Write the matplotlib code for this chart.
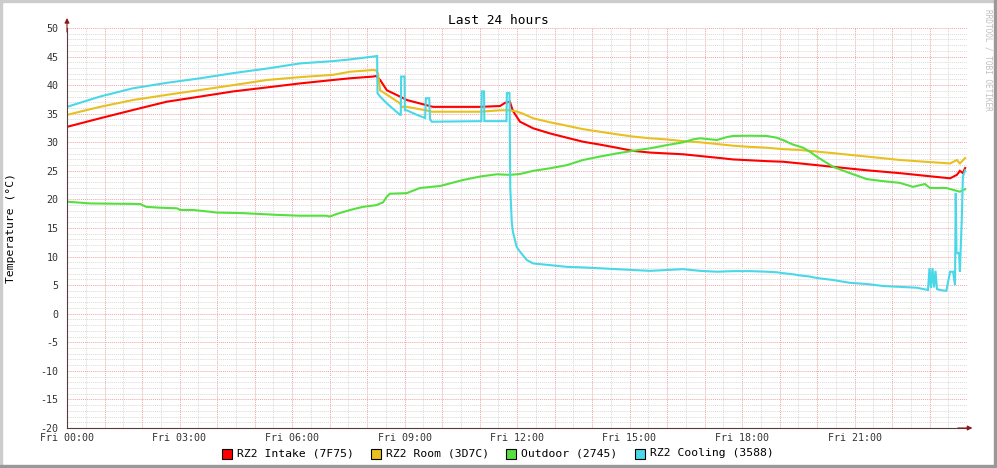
import matplotlib
matplotlib.use("Agg")
import matplotlib.pyplot as plt
from matplotlib.patches import Rectangle
from matplotlib.ticker import MultipleLocator
import numpy as np

plt.rcParams['font.family'] = ['DejaVu Sans Mono']

# time in hours since Fri 00:00
intake_t = [0, 0.88, 1.76, 2.66, 3.55, 4.43, 5.33, 6.21, 7.09, 7.55, 8.16, 8.24, 8.35, 8.53,
            8.88, 9.06, 9.41, 9.76, 11.01, 11.55, 11.68, 11.81, 11.89, 12.08, 12.43, 12.88,
            13.33, 13.76, 14.21, 14.66, 15.09, 15.55, 15.99, 16.43, 16.88, 17.33, 17.76, 18.21,
            18.66, 19.09, 19.55, 20.43, 21.33, 22.21, 23.09, 23.55, 23.73, 23.81, 23.89, 23.95]
intake_v = [32.7, 34.2, 35.65, 37.1, 38.0, 38.9, 39.6, 40.3, 40.9, 41.2, 41.5, 41.6, 40.9, 39.1,
            38.0, 37.4, 36.8, 36.2, 36.2, 36.35, 36.9, 37.1, 35.5, 33.6, 32.45, 31.55,
            30.8, 30.1, 29.6, 29.05, 28.5, 28.2, 28.05, 27.9, 27.6, 27.3, 27.0, 26.85,
            26.7, 26.6, 26.3, 25.7, 25.1, 24.6, 24.0, 23.7, 24.3, 25.0, 24.6, 25.5]

room_t = [0, 0.88, 1.76, 2.66, 3.55, 4.43, 5.33, 6.21, 7.09, 7.55, 8.16, 8.24, 8.29, 8.35, 8.61,
          8.88, 8.93, 9.06, 9.57, 9.73, 11.01, 11.55, 11.81, 11.99, 12.16, 12.43, 12.88, 13.33,
          13.76, 14.21, 14.66, 15.09, 15.55, 15.99, 16.43, 16.88, 17.33, 17.76, 18.21, 18.66,
          19.09, 19.55, 20.43, 21.33, 22.21, 23.09, 23.55, 23.73, 23.81, 23.95]
room_v = [34.8, 36.2, 37.4, 38.3, 39.15, 40.0, 40.9, 41.4, 41.8, 42.35, 42.65, 42.6, 42.1, 39.1, 38.0,
          36.8, 36.2, 36.2, 35.6, 35.35, 35.35, 35.6, 35.6, 35.4, 35.0, 34.2, 33.5, 32.9,
          32.3, 31.85, 31.4, 31.0, 30.7, 30.5, 30.2, 30.0, 29.7, 29.4, 29.2, 29.05,
          28.8, 28.65, 28.1, 27.5, 26.9, 26.5, 26.3, 26.9, 26.3, 27.25]

outdoor_t = [0, 0.62, 1.95, 2.12, 2.48, 2.93, 3.02, 3.36, 3.81, 3.99, 4.69, 5.15, 5.59, 6.21, 6.92,
             7.01, 7.19, 7.55, 7.89, 8.25, 8.43, 8.53, 8.61, 9.06, 9.41, 9.95, 10.21, 10.56, 11.01,
             11.46, 11.81, 12.08, 12.43, 12.88, 13.33, 13.76, 14.21, 14.66, 15.09, 15.55, 15.99,
             16.43, 16.69, 16.88, 17.33, 17.59, 17.76, 18.21, 18.66, 18.93, 19.09, 19.36, 19.63,
             19.81, 19.99, 20.43, 20.88, 21.33, 21.76, 22.21, 22.56, 22.88, 23.01, 23.45, 23.81, 23.95]
outdoor_v = [19.6, 19.3, 19.2, 18.7, 18.55, 18.45, 18.15, 18.15, 17.85, 17.7, 17.6, 17.45, 17.3, 17.15, 17.15,
             17.0, 17.45, 18.15, 18.7, 19.0, 19.5, 20.5, 21.0, 21.1, 22.0, 22.35, 22.8, 23.4, 24.0,
             24.4, 24.3, 24.45, 25.0, 25.45, 26.0, 26.9, 27.5, 28.05, 28.5, 28.95, 29.5,
             29.99, 30.5, 30.7, 30.4, 30.9, 31.1, 31.15, 31.1, 30.8, 30.4, 29.6, 29.05,
             28.35, 27.5, 25.7, 24.6, 23.55, 23.2, 22.9, 22.2, 22.7, 22.0, 22.0, 21.35, 21.8]

cooling_t = [0, 0.88, 1.76, 2.66, 3.55, 4.43, 5.33, 6.21, 7.09, 7.55, 8.16, 8.27, 8.28, 8.35, 8.53,
             8.88, 8.90, 8.91, 9.0, 9.01, 9.06, 9.33, 9.55, 9.57, 9.66, 9.68, 9.73, 11.05, 11.06,
             11.12, 11.13, 11.72, 11.73, 11.80, 11.82, 11.86, 11.89, 11.99, 12.08, 12.26, 12.43,
             12.88, 13.33, 13.76, 14.21, 14.66, 15.09, 15.55, 15.99, 16.43, 16.88, 17.33, 17.76,
             18.21, 18.66, 18.93, 19.09, 19.36, 19.55, 19.81, 19.99, 20.43, 20.88, 21.33, 21.76,
             22.21, 22.66, 22.96, 23.0, 23.04, 23.08, 23.12, 23.16, 23.2, 23.28, 23.45, 23.49,
             23.55, 23.63, 23.68, 23.70, 23.72, 23.79, 23.81, 23.86, 23.89, 23.95]
cooling_v = [36.2, 38.0, 39.45, 40.4, 41.2, 42.1, 42.9, 43.8, 44.2, 44.5, 45.0, 45.1, 38.6, 38.0, 36.8,
             34.8, 34.8, 41.5, 41.5, 35.6, 35.6, 34.8, 34.25, 37.7, 37.7, 34.0, 33.6, 33.7, 38.9,
             38.9, 33.7, 33.7, 38.6, 38.6, 22.0, 16.1, 14.35, 11.7, 10.85, 9.4, 8.8,
             8.5, 8.2, 8.1, 7.95, 7.8, 7.65, 7.5, 7.65, 7.8, 7.5, 7.35, 7.45,
             7.45, 7.35, 7.25, 7.1, 6.9, 6.7, 6.5, 6.25, 5.9, 5.4, 5.2, 4.85,
             4.7, 4.55, 4.15, 8.0, 4.5, 8.0, 4.6, 7.5, 4.3, 4.15, 4.0, 5.4,
             7.35, 7.35, 5.0, 21.1, 10.6, 10.6, 7.35, 16.4, 24.0, 25.1]

series = [
    ("RZ2 Intake (7F75)", intake_t, intake_v, "#ff0000"),
    ("RZ2 Room (3D7C)", room_t, room_v, "#e8c020"),
    ("Outdoor (2745)", outdoor_t, outdoor_v, "#55e040"),
    ("RZ2 Cooling (3588)", cooling_t, cooling_v, "#48d8e8"),
]
xlab_hours = [0, 3, 6, 9, 12, 15, 18, 21]

W, H = 997, 468
fig = plt.figure(figsize=(W / 100, H / 100), dpi=100)
fig.patch.set_facecolor("white")

x0, x1, ytop, ybot = 67, 967, 28, 428
ax = fig.add_axes([x0 / W, 1 - ybot / H, (x1 - x0) / W, (ybot - ytop) / H])
ax.set_facecolor("white")

for name, t, v, c in series:
    ax.plot(t, v, color=c, lw=1.5, solid_joinstyle="miter")

ax.set_xlim(0, 24)
ax.set_ylim(-20, 50)

ax.xaxis.set_major_locator(MultipleLocator(1))
ax.xaxis.set_minor_locator(MultipleLocator(0.5))
ax.yaxis.set_minor_locator(MultipleLocator(1))
ax.set_xticklabels([])
ax.set_yticks(np.arange(-20, 51, 5))
ax.set_yticklabels([str(v) for v in range(-20, 51, 5)], fontsize=7.2, color="#333333")

ax.grid(which="minor", color="#dadada", linestyle=(0, (1, 1)), lw=0.7)
ax.grid(which="major", color="#f2a4a4", linestyle=(0, (1, 1)), lw=0.7)
ax.set_axisbelow(True)

ax.tick_params(which="both", length=0)
ax.tick_params(axis="y", pad=6)

# x labels every 3 hours
for h in xlab_hours:
    ax.text(h, -0.012, "Fri %02d:00" % h, transform=ax.get_xaxis_transform(),
            ha="center", va="top", fontsize=7.2, color="#333333")

for s in ["top", "right"]:
    ax.spines[s].set_visible(False)
for s in ["left", "bottom"]:
    ax.spines[s].set_color("#5a3a3a")
    ax.spines[s].set_linewidth(0.8)

ax.annotate("", xy=(0, 1.025), xytext=(0, 0.99), xycoords="axes fraction",
            arrowprops=dict(arrowstyle="-|>", color="#8b1a1a", lw=0.8, mutation_scale=7,
                            shrinkA=0, shrinkB=0))
ax.annotate("", xy=(1.006, 0), xytext=(0.99, 0), xycoords="axes fraction",
            arrowprops=dict(arrowstyle="-|>", color="#8b1a1a", lw=0.8, mutation_scale=7,
                            shrinkA=0, shrinkB=0))

fig.text(11 / W, 1 - 228 / H, "Temperature (°C)", rotation=90, ha="center", va="center",
         fontsize=8.2)
fig.text(498 / W, 1 - 20 / H, "Last 24 hours", ha="center", va="center", fontsize=9.3)
fig.text(988 / W, 1 - 60 / H, "RRDTOOL / TOBI OETIKER", ha="center", va="center",
         rotation=270, fontsize=5.6, color="#c0c0c0")

# legend
legend_box_x = [222, 371, 506, 635]
for (name, t, v, c), bx in zip(series, legend_box_x):
    fig.patches.append(Rectangle((bx / W, 1 - 459 / H), 10 / W, 10 / H, transform=fig.transFigure,
                                 facecolor=c, edgecolor="black", lw=0.8))
    fig.text((bx + 15) / W, 1 - 453.5 / H, name, ha="left", va="center", fontsize=8.2)

# frame
fig.patches.append(Rectangle((0, 1 - 2 / H), 1, 2 / H, transform=fig.transFigure, color="#cccccc"))
fig.patches.append(Rectangle((0, 0), 2 / W, 1, transform=fig.transFigure, color="#cccccc"))
fig.patches.append(Rectangle((0, 0), 1, 3 / H, transform=fig.transFigure, color="#999999"))
fig.patches.append(Rectangle((1 - 3 / W, 0), 3 / W, 1, transform=fig.transFigure, color="#999999"))

fig.savefig("out.png", dpi=100)
